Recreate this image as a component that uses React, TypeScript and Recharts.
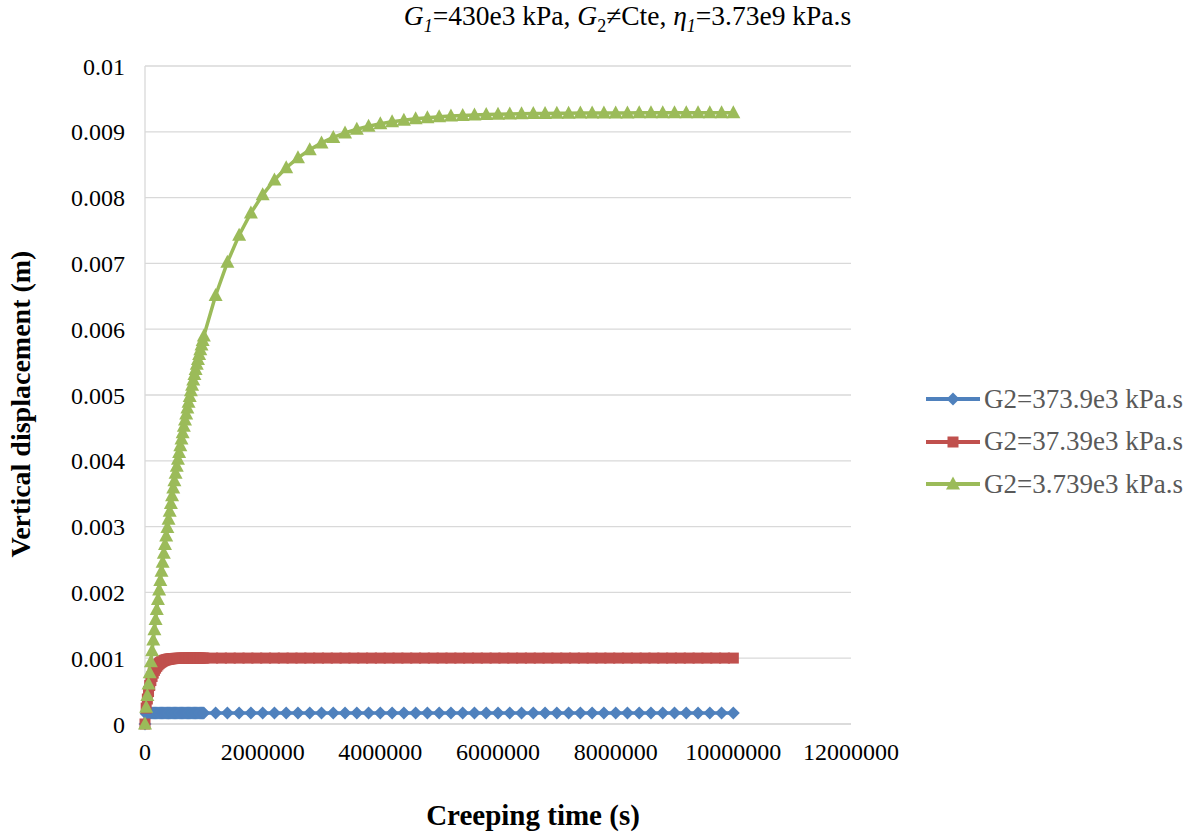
import React from 'react';
import { LineChart, Line, XAxis, YAxis, CartesianGrid } from 'recharts';

// creeping time (s)
const denseTimes = [
  0, 20000, 40000, 60000, 80000, 100000, 120000, 140000, 160000, 180000,
  200000, 220000, 240000, 260000, 280000, 300000, 320000, 340000, 360000, 380000,
  400000, 420000, 440000, 460000, 480000, 500000, 520000, 540000, 560000, 580000,
  600000, 620000, 640000, 660000, 680000, 700000, 720000, 740000, 760000, 780000,
  800000, 820000, 840000, 860000, 880000, 900000, 920000, 940000, 960000, 980000,
  1000000,
];
const sparseTimes = [
  1200000, 1400000, 1600000, 1800000, 2000000, 2200000, 2400000, 2600000, 2800000, 3000000,
  3200000, 3400000, 3600000, 3800000, 4000000, 4200000, 4400000, 4600000, 4800000, 5000000,
  5200000, 5400000, 5600000, 5800000, 6000000, 6200000, 6400000, 6600000, 6800000, 7000000,
  7200000, 7400000, 7600000, 7800000, 8000000, 8200000, 8400000, 8600000, 8800000, 9000000,
  9200000, 9400000, 9600000, 9800000, 10000000,
];
const redTailTimes = [
  1150000, 1300000, 1450000, 1600000, 1750000, 1900000, 2050000, 2200000, 2350000, 2500000,
  2650000, 2800000, 2950000, 3100000, 3250000, 3400000, 3550000, 3700000, 3850000, 4000000,
  4150000, 4300000, 4450000, 4600000, 4750000, 4900000, 5050000, 5200000, 5350000, 5500000,
  5650000, 5800000, 5950000, 6100000, 6250000, 6400000, 6550000, 6700000, 6850000, 7000000,
  7150000, 7300000, 7450000, 7600000, 7750000, 7900000, 8050000, 8200000, 8350000, 8500000,
  8650000, 8800000, 8950000, 9100000, 9250000, 9400000, 9550000, 9700000, 9850000, 10000000,
];

// vertical displacement (m)
const blueDense = [
  0, 0.000154, 0.000165, 0.0001665, 0.000167, 0.000167, 0.000167, 0.000167, 0.000167, 0.000167,
  0.000167, 0.000167, 0.000167, 0.000167, 0.000167, 0.000167, 0.000167, 0.000167, 0.000167, 0.000167,
  0.000167, 0.000167, 0.000167, 0.000167, 0.000167, 0.000167, 0.000167, 0.000167, 0.000167, 0.000167,
  0.000167, 0.000167, 0.000167, 0.000167, 0.000167, 0.000167, 0.000167, 0.000167, 0.000167, 0.000167,
  0.000167, 0.000167, 0.000167, 0.000167, 0.000167, 0.000167, 0.000167, 0.000167, 0.000167, 0.000167,
  0.000167,
];
const blueSparse = [
  0.000167, 0.000167, 0.000167, 0.000167, 0.000167, 0.000167, 0.000167, 0.000167, 0.000167, 0.000167,
  0.000167, 0.000167, 0.000167, 0.000167, 0.000167, 0.000167, 0.000167, 0.000167, 0.000167, 0.000167,
  0.000167, 0.000167, 0.000167, 0.000167, 0.000167, 0.000167, 0.000167, 0.000167, 0.000167, 0.000167,
  0.000167, 0.000167, 0.000167, 0.000167, 0.000167, 0.000167, 0.000167, 0.000167, 0.000167, 0.000167,
  0.000167, 0.000167, 0.000167, 0.000167, 0.000167,
];
const redDense = [
  0, 0.0002422, 0.0003799, 0.0004927, 0.000585, 0.0006606, 0.0007225, 0.0007732, 0.0008146, 0.0008486,
  0.0008764, 0.0008992, 0.0009178, 0.0009331, 0.0009456, 0.0009558, 0.0009642, 0.000971, 0.0009766, 0.0009812,
  0.000985, 0.0009881, 0.0009906, 0.0009927, 0.0009944, 0.0009957, 0.0009969, 0.0009978, 0.0009986, 0.0009992,
  0.0009997, 0.0010002, 0.0010005, 0.0010007, 0.001001, 0.0010012, 0.0010013, 0.0010014, 0.0010015, 0.0010016,
  0.0010017, 0.0010017, 0.0010018, 0.0010018, 0.0010018, 0.0010018, 0.0010018, 0.0010018, 0.0010018, 0.0010018,
  0.0010018,
];
const redTail = [
  0.0010018, 0.0010018, 0.0010018, 0.0010018, 0.0010018, 0.0010018, 0.0010018, 0.0010018, 0.0010018, 0.0010018,
  0.0010018, 0.0010018, 0.0010018, 0.0010018, 0.0010018, 0.0010018, 0.0010018, 0.0010018, 0.0010018, 0.0010018,
  0.0010018, 0.0010018, 0.0010018, 0.0010018, 0.0010018, 0.0010018, 0.0010018, 0.0010018, 0.0010018, 0.0010018,
  0.0010018, 0.0010018, 0.0010018, 0.0010018, 0.0010018, 0.0010018, 0.0010018, 0.0010018, 0.0010018, 0.0010018,
  0.0010018, 0.0010018, 0.0010018, 0.0010018, 0.0010018, 0.0010018, 0.0010018, 0.0010018, 0.0010018, 0.0010018,
  0.0010018, 0.0010018, 0.0010018, 0.0010018, 0.0010018, 0.0010018, 0.0010018, 0.0010018, 0.0010018, 0.0010018,
];
const greenDense = [
  0, 0.000253, 0.000432, 0.000607, 0.000779, 0.000947, 0.001113, 0.001275, 0.001433, 0.001589,
  0.001741, 0.001891, 0.002037, 0.002181, 0.002322, 0.00246, 0.002595, 0.002728, 0.002857, 0.002985,
  0.00311, 0.003232, 0.003352, 0.00347, 0.003585, 0.003698, 0.003809, 0.003917, 0.004024, 0.004128,
  0.00423, 0.00433, 0.004428, 0.004525, 0.004619, 0.004712, 0.004802, 0.004891, 0.004978, 0.005064,
  0.005147, 0.005229, 0.00531, 0.005388, 0.005466, 0.005541, 0.005616, 0.005688, 0.00576, 0.00583,
  0.005898,
];
const greenSparse = [
  0.006513, 0.007016, 0.007429, 0.007766, 0.008042, 0.008268, 0.008454, 0.008605, 0.008729, 0.008831,
  0.008914, 0.008982, 0.009038, 0.009084, 0.009121, 0.009152, 0.009177, 0.009197, 0.009214, 0.009228,
  0.009239, 0.009248, 0.009256, 0.009262, 0.009267, 0.009271, 0.009275, 0.009277, 0.00928, 0.009282,
  0.009283, 0.009284, 0.009285, 0.009286, 0.009287, 0.009287, 0.009288, 0.009288, 0.009288, 0.009289,
  0.009289, 0.009289, 0.009289, 0.009289, 0.009289,
];

const xTicks = [0, 2000000, 4000000, 6000000, 8000000, 10000000, 12000000];
const yTicks = [0, 0.001, 0.002, 0.003, 0.004, 0.005, 0.006, 0.007, 0.008, 0.009, 0.01];

const seriesNames = ['G2=373.9e3 kPa.s', 'G2=37.39e3 kPa.s', 'G2=3.739e3 kPa.s'];

const BLUE = '#4F81BD';
const RED = '#C0504D';
const GREEN = '#9BBB59';
const FONT = 'Liberation Serif, DejaVu Serif, serif';

const zip = (ts: number[], us: number[]) => ts.map((t, i) => ({ t, u: us[i] }));

const blueData = [...zip(denseTimes, blueDense), ...zip(sparseTimes, blueSparse)];
const redData = [...zip(denseTimes, redDense), ...zip(redTailTimes, redTail)];
const greenData = [...zip(denseTimes, greenDense), ...zip(sparseTimes, greenSparse)];

const diamond = (cx: number, cy: number, color: string, key?: any) => (
  <polygon
    key={key}
    points={`${cx},${cy - 6.5} ${cx + 6.5},${cy} ${cx},${cy + 6.5} ${cx - 6.5},${cy}`}
    fill={color}
  />
);
const square = (cx: number, cy: number, color: string, key?: any) => (
  <rect key={key} x={cx - 5.5} y={cy - 5.5} width={11} height={11} fill={color} />
);
const triangle = (cx: number, cy: number, color: string, key?: any) => (
  <polygon
    key={key}
    points={`${cx},${cy - 7.5} ${cx + 7},${cy + 5.5} ${cx - 7},${cy + 5.5}`}
    fill={color}
  />
);

const markers = [
  { name: seriesNames[0], color: BLUE, shape: diamond },
  { name: seriesNames[1], color: RED, shape: square },
  { name: seriesNames[2], color: GREEN, shape: triangle },
];

const subStyle = { fontSize: 18, lineHeight: 0 };

export default function App() {
  return (
    <div style={{ position: 'absolute', left: 0, top: 0, width: 1188, height: 838, background: '#fff', fontFamily: FONT }}>
      <div
        style={{
          position: 'absolute',
          left: 0,
          width: 1255,
          top: 1,
          height: 34,
          lineHeight: '30px',
          textAlign: 'center',
          fontSize: 27.5,
          color: '#000',
          whiteSpace: 'nowrap',
        }}
      >
        <i>G</i><sub style={subStyle}><i>1</i></sub>=430e3 kPa, <i>G</i>
        <sub style={subStyle}>2</sub>≠Cte, <i>η</i>
        <sub style={subStyle}><i>1</i></sub>=3.73e9 kPa.s
      </div>

      <LineChart width={1188} height={838} margin={{ top: 66, right: 337, bottom: 84, left: 0 }}>
        <CartesianGrid horizontal vertical={false} stroke="#d9d9d9" strokeWidth={1.3} />
        <XAxis
          type="number"
          dataKey="t"
          domain={[0, 12000000]}
          ticks={xTicks}
          tickLine={false}
          tickSize={6}
          tickMargin={13}
          axisLine={{ stroke: '#d9d9d9', strokeWidth: 1.3 }}
          tick={{ fill: '#000', fontSize: 24, fontFamily: FONT }}
          interval={0}
        />
        <YAxis
          type="number"
          width={145}
          domain={[0, 0.01]}
          ticks={yTicks}
          tickLine={false}
          tickSize={6}
          tickMargin={14}
          axisLine={{ stroke: '#d9d9d9', strokeWidth: 1.3 }}
          tick={{ fill: '#000', fontSize: 24, fontFamily: FONT }}
          interval={0}
        />
        <Line
          data={blueData}
          dataKey="u"
          stroke={BLUE}
          strokeWidth={3.5}
          isAnimationActive={false}
          dot={(p: any) => diamond(p.cx, p.cy, BLUE, `b-${p.index}`)}
          activeDot={false}
        />
        <Line
          data={redData}
          dataKey="u"
          stroke={RED}
          strokeWidth={3.5}
          isAnimationActive={false}
          dot={(p: any) => square(p.cx, p.cy, RED, `r-${p.index}`)}
          activeDot={false}
        />
        <Line
          data={greenData}
          dataKey="u"
          stroke={GREEN}
          strokeWidth={3.5}
          isAnimationActive={false}
          dot={(p: any) => triangle(p.cx, p.cy, GREEN, `g-${p.index}`)}
          activeDot={false}
        />
      </LineChart>

      <div style={{ position: 'absolute', left: 0, top: 404, width: 40, height: 0 }}>
        <div
          style={{
            position: 'absolute',
            left: 21,
            top: 0,
            transform: 'translate(-50%, -50%) rotate(-90deg)',
            fontWeight: 'bold',
            fontSize: 28,
            whiteSpace: 'nowrap',
            color: '#000',
          }}
        >
          Vertical displacement (m)
        </div>
      </div>

      <div
        style={{
          position: 'absolute',
          left: 0,
          width: 1066,
          top: 799,
          textAlign: 'center',
          fontWeight: 'bold',
          fontSize: 29,
          color: '#000',
        }}
      >
        Creeping time (s)
      </div>

      <div style={{ position: 'absolute', left: 924, top: 378, fontSize: 27, color: '#595959' }}>
        {markers.map((m) => (
          <div key={m.name} style={{ display: 'flex', alignItems: 'center', height: 42.5, whiteSpace: 'nowrap' }}>
            <svg width={58} height={20} style={{ marginRight: 2 }}>
              <line x1={2} y1={10} x2={56} y2={10} stroke={m.color} strokeWidth={4} />
              {m.shape(29, 10, m.color)}
            </svg>
            <span>{m.name}</span>
          </div>
        ))}
      </div>
    </div>
  );
}
